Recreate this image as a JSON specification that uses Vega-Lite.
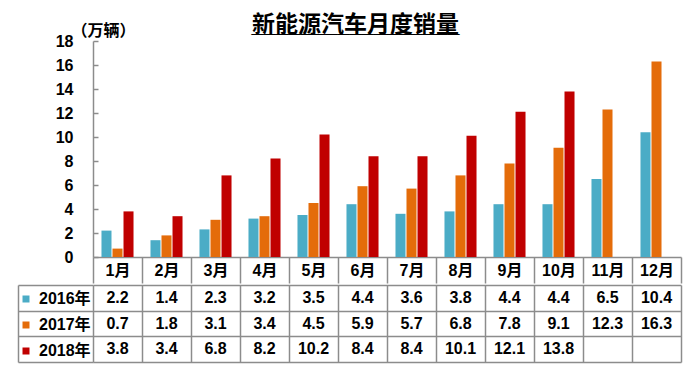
{
  "$schema": "https://vega.github.io/schema/vega-lite/v6.json",
  "padding": {"left": 17, "top": 14, "right": 17, "bottom": 9},
  "background": "white",
  "config": {
    "font": "Liberation Sans",
    "view": {"stroke": null},
    "axis": {
      "labelFont": "Liberation Sans, Noto Sans CJK SC",
      "labelFontSize": 16,
      "labelFontWeight": "bold",
      "labelColor": "#000000",
      "domainColor": "#8c8c8c",
      "tickColor": "#8c8c8c",
      "gridColor": "#8c8c8c",
      "domainWidth": 1.5,
      "tickWidth": 1.5,
      "gridWidth": 1.5
    }
  },
  "title": {
    "text": "新能源汽车月度销量",
    "subtitle": "_________________",
    "font": "Noto Sans CJK SC",
    "fontSize": 23,
    "fontWeight": "bold",
    "color": "#000000",
    "subtitleFont": "Liberation Sans",
    "subtitleFontSize": 22,
    "subtitleFontWeight": "bold",
    "subtitleColor": "#000000",
    "subtitlePadding": -22,
    "anchor": "middle",
    "dx": 6,
    "offset": -15
  },
  "data": {
    "values": [
      {"month": "1月", "year": "2016年", "value": 2.2},
      {"month": "2月", "year": "2016年", "value": 1.4},
      {"month": "3月", "year": "2016年", "value": 2.3},
      {"month": "4月", "year": "2016年", "value": 3.2},
      {"month": "5月", "year": "2016年", "value": 3.5},
      {"month": "6月", "year": "2016年", "value": 4.4},
      {"month": "7月", "year": "2016年", "value": 3.6},
      {"month": "8月", "year": "2016年", "value": 3.8},
      {"month": "9月", "year": "2016年", "value": 4.4},
      {"month": "10月", "year": "2016年", "value": 4.4},
      {"month": "11月", "year": "2016年", "value": 6.5},
      {"month": "12月", "year": "2016年", "value": 10.4},
      {"month": "1月", "year": "2017年", "value": 0.7},
      {"month": "2月", "year": "2017年", "value": 1.8},
      {"month": "3月", "year": "2017年", "value": 3.1},
      {"month": "4月", "year": "2017年", "value": 3.4},
      {"month": "5月", "year": "2017年", "value": 4.5},
      {"month": "6月", "year": "2017年", "value": 5.9},
      {"month": "7月", "year": "2017年", "value": 5.7},
      {"month": "8月", "year": "2017年", "value": 6.8},
      {"month": "9月", "year": "2017年", "value": 7.8},
      {"month": "10月", "year": "2017年", "value": 9.1},
      {"month": "11月", "year": "2017年", "value": 12.3},
      {"month": "12月", "year": "2017年", "value": 16.3},
      {"month": "1月", "year": "2018年", "value": 3.8},
      {"month": "2月", "year": "2018年", "value": 3.4},
      {"month": "3月", "year": "2018年", "value": 6.8},
      {"month": "4月", "year": "2018年", "value": 8.2},
      {"month": "5月", "year": "2018年", "value": 10.2},
      {"month": "6月", "year": "2018年", "value": 8.4},
      {"month": "7月", "year": "2018年", "value": 8.4},
      {"month": "8月", "year": "2018年", "value": 10.1},
      {"month": "9月", "year": "2018年", "value": 12.1},
      {"month": "10月", "year": "2018年", "value": 13.8}
    ]
  },
  "spacing": 0,
  "vconcat": [
    {
      "width": 588,
      "height": 216,
      "mark": {"type": "bar"},
      "encoding": {
        "x": {
          "field": "month",
          "type": "ordinal",
          "sort": ["1月","2月","3月","4月","5月","6月","7月","8月","9月","10月","11月","12月"],
          "scale": {"paddingInner": 0, "paddingOuter": 0},
          "axis": {
            "title": null,
            "labelAngle": 0,
            "tickBand": "extent",
            "tickSize": 26,
            "labelPadding": -21
          }
        },
        "xOffset": {
          "field": "year",
          "type": "nominal",
          "scale": {"paddingInner": 0.09, "paddingOuter": 0.77}
        },
        "y": {
          "field": "value",
          "type": "quantitative",
          "scale": {"domain": [0, 18], "nice": false},
          "axis": {
            "values": [0, 2, 4, 6, 8, 10, 12, 14, 16, 18],
            "grid": false,
            "tickSize": -5,
            "labelPadding": 25,
            "title": "（万辆）",
            "titleFont": "Noto Sans CJK SC",
            "titleFontSize": 16,
            "titleFontWeight": "bold",
            "titleColor": "#000000",
            "titleAngle": 0,
            "titleAlign": "left",
            "titleBaseline": "middle",
            "titleX": -22,
            "titleY": -11
          }
        },
        "color": {
          "field": "year",
          "type": "nominal",
          "scale": {
            "domain": ["2016年", "2017年", "2018年"],
            "range": ["#4BACC6", "#E46C0A", "#C00000"]
          },
          "legend": {
            "title": null,
            "orient": "none",
            "legendX": -75,
            "legendY": 250,
            "direction": "vertical",
            "symbolType": "square",
            "symbolSize": 49,
            "symbolStrokeWidth": 0,
            "labelFont": "Liberation Sans, Noto Sans CJK SC",
            "labelFontSize": 16,
            "labelFontWeight": "bold",
            "labelColor": "#000000",
            "labelOffset": 5,
            "rowPadding": 10,
            "padding": 0
          }
        }
      }
    },
    {
      "width": 588,
      "height": 77,
      "mark": {
        "type": "text",
        "font": "Liberation Sans",
        "fontSize": 16,
        "fontWeight": "bold",
        "color": "#000000"
      },
      "encoding": {
        "x": {
          "field": "month",
          "type": "ordinal",
          "sort": ["1月","2月","3月","4月","5月","6月","7月","8月","9月","10月","11月","12月"],
          "scale": {"paddingInner": 0, "paddingOuter": 0},
          "axis": {
            "title": null,
            "labels": false,
            "ticks": false,
            "domain": false,
            "grid": true,
            "tickBand": "extent"
          }
        },
        "y": {
          "field": "year",
          "type": "ordinal",
          "scale": {"domain": ["2016年", "2017年", "2018年"], "paddingInner": 0, "paddingOuter": 0},
          "axis": {
            "title": null,
            "labels": false,
            "grid": true,
            "tickBand": "extent",
            "offset": 75,
            "tickSize": -75,
            "domain": true
          }
        },
        "text": {"field": "value", "type": "quantitative", "format": ".1f"}
      }
    }
  ]
}
